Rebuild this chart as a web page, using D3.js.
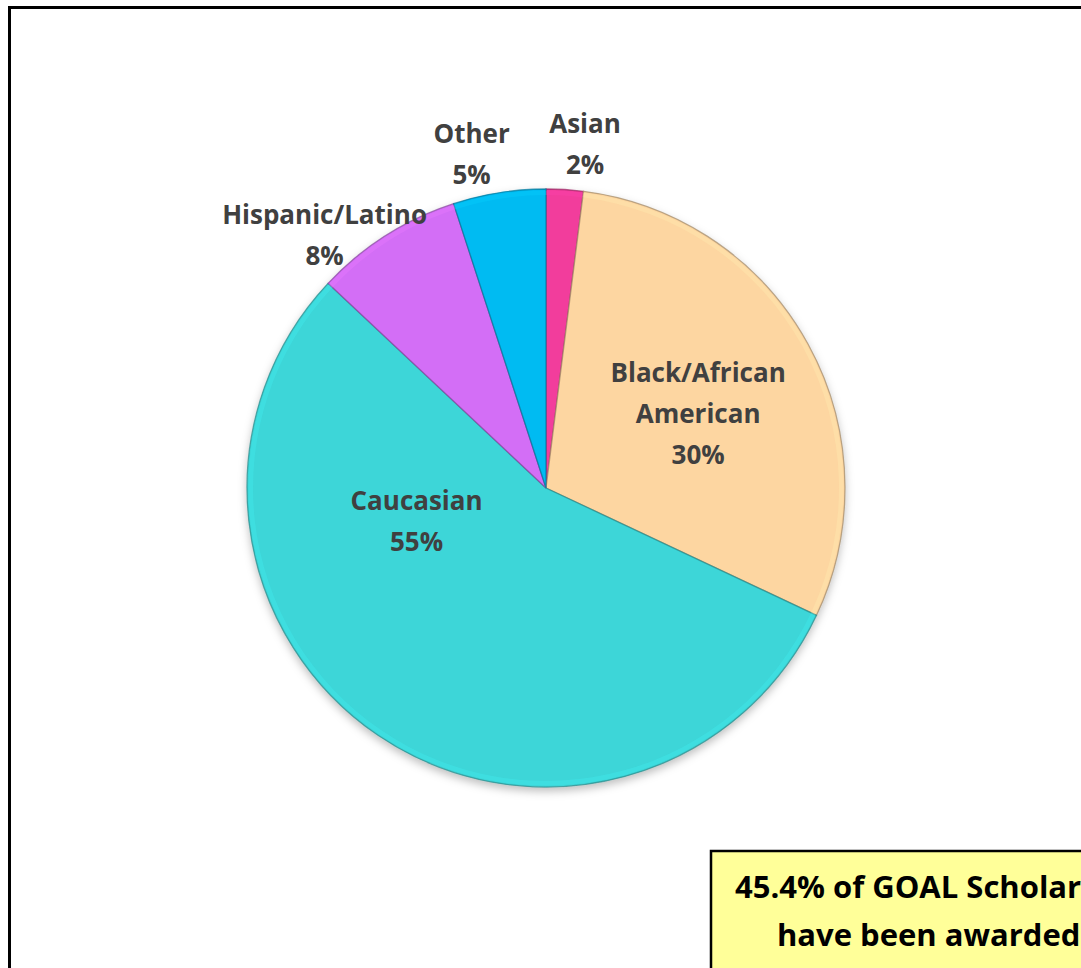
<!DOCTYPE html>
<html>
<head>
<meta charset="utf-8">
<script src="https://cdn.jsdelivr.net/npm/d3@7"></script>
<style>
  body { margin: 0; background: #fff; overflow: hidden; }
  text { font-family: "Open Sans", Lato, sans-serif; font-weight: bold; }
</style>
</head>
<body>
<svg id="chart" width="1081" height="968"></svg>
<script>
// chart data
var categories = ["Asian", "Black/African American", "Caucasian", "Hispanic/Latino", "Other"];
var values = [2, 30, 55, 8, 5];
var colors = ["#f23c9c", "#fdd6a1", "#3cd6d8", "#d36ef6", "#05bbf2"];
var labelLines = [["Asian"], ["Black/African", "American"], ["Caucasian"], ["Hispanic/Latino"], ["Other"]];
var noteLines = ["45.4% of GOAL Scholars", "have been awarded"];

// label nudges (Excel "best fit" style placement)
var labelNudge = {
  "Asian": [18, -10],
  "Black/African American": [8, 4],
  "Caucasian": [-37, -104],
  "Hispanic/Latino": [-42, 29],
  "Other": [-22, -4]
};

var svg = d3.select("#chart");
const width = +svg.attr("width");
const height = +svg.attr("height");

var cx = 546, cy = 488, radius = 299;

var defs = svg.append("defs");
var f = defs.append("filter").attr("id", "shadow")
  .attr("x", "-10%").attr("y", "-10%").attr("width", "120%").attr("height", "125%");
f.append("feDropShadow").attr("dx", 0).attr("dy", 4).attr("stdDeviation", 4)
  .attr("flood-color", "#000").attr("flood-opacity", 0.25);

// frame
svg.append("path")
  .attr("d", "M9.5," + height + " L9.5,7.5 L" + width + ",7.5")
  .attr("fill", "none").attr("stroke", "#000").attr("stroke-width", 3);

var data = categories.map((c, i) => ({ name: c, value: values[i], color: colors[i], lines: labelLines[i] }));

var pie = d3.pie().sort(null).value(d => d.value);
var arcs = pie(data);

var arc = d3.arc().innerRadius(0).outerRadius(radius);

var g = svg.append("g").attr("transform", "translate(" + cx + "," + cy + ")");

g.append("g").attr("filter", "url(#shadow)")
  .selectAll("path").data(arcs).enter().append("path")
  .attr("d", arc)
  .attr("fill", d => d.data.color)
  .attr("stroke", d => d3.color(d.data.color).darker(1.3))
  .attr("stroke-opacity", 0.7)
  .attr("stroke-width", 1.3);

// soft highlight rim
g.selectAll("path.rim").data(arcs).enter().append("path")
  .attr("class", "rim")
  .attr("d", d3.arc().innerRadius(radius - 6).outerRadius(radius - 1.5))
  .attr("fill", d => d3.color(d.data.color).brighter(0.3))
  .attr("opacity", 0.35);

var lineH = 41;
var labels = g.selectAll("text.lbl").data(arcs).enter().append("text")
  .attr("class", "lbl")
  .attr("text-anchor", "middle")
  .attr("fill", "#404040")
  .attr("font-size", 26)
  .attr("transform", d => {
    var mid = (d.startAngle + d.endAngle) / 2;
    var r = d.data.value >= 20 ? radius * 0.55 : radius * 1.12;
    var p = d3.pointRadial(mid, r);
    var n = labelNudge[d.data.name];
    return "translate(" + (p[0] + n[0]) + "," + (p[1] + n[1]) + ")";
  });

labels.each(function(d) {
  var t = d3.select(this);
  var all = d.data.lines.concat([d.data.value + "%"]);
  var y0 = -(all.length - 1) * lineH / 2 + 10;
  all.forEach((s, k) => {
    t.append("tspan").attr("x", 0).attr("y", y0 + k * lineH).text(s);
  });
});

// note box
var note = svg.append("g");
note.append("rect")
  .attr("x", 711).attr("y", 851)
  .attr("width", 420).attr("height", 160)
  .attr("fill", "#ffff99").attr("stroke", "#000").attr("stroke-width", 2.5);
note.selectAll("text").data(noteLines).enter().append("text")
  .attr("x", (d, i) => i == 0 ? 735 : 777)
  .attr("y", (d, i) => 898 + i * 48)
  .attr("fill", "#000")
  .attr("font-size", 31)
  .text(d => d);
</script>
</body>
</html>
